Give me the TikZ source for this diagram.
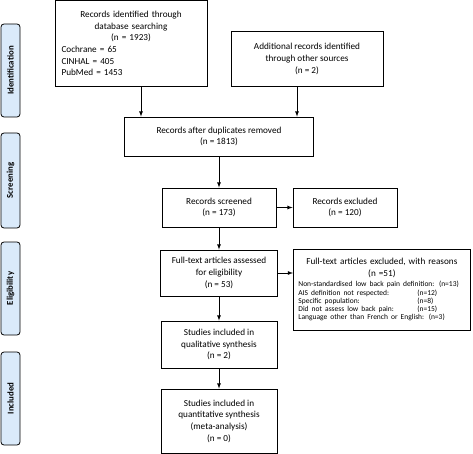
\documentclass[tikz,border=0pt]{standalone}
\usepackage{fontspec}
\setmainfont{Carlito}
\usetikzlibrary{arrows,positioning}
\definecolor{stagefill}{RGB}{218,234,250}

\begin{document}
\begin{tikzpicture}[x=1pt,y=-1pt,>=latex,
  box/.style={draw, line width=0.8pt, align=center, inner sep=3pt,
    font=\fontsize{9.2}{11.7}\selectfont},
  stage/.style={draw, line width=0.8pt, rounded corners=3pt, fill=stagefill,
    rotate=90, minimum height=19pt, inner sep=0pt,
    font=\fontsize{8.8}{10}\selectfont\bfseries}]
  \useasboundingbox (0,0) rectangle (473,454);

  % stages
  \node[stage, minimum width=93pt] (ident) at (10.5,70.5) {Identification};
  \node[stage, minimum width=95pt] (screen) at (10.5,180.5) {Screening};
  \node[stage, minimum width=93pt] (elig) at (10.5,288.5) {Eligibility};
  \node[stage, minimum width=93pt] (incl) at (10.5,398.5) {Included};

  % boxes
  \node[box, minimum width=152pt, minimum height=86pt, text width=139pt,
    inner xsep=6pt, align=left] (db) at (131,43.5)
    {{\centering Records identified through\\ database searching\\ (n = 1923)\par}
     Cochrane = 65\\ CINHAL = 405\\ PubMed = 1453};
  \node[box, minimum width=152pt, minimum height=55pt] (add) at (307,59)
    {Additional records identified\\ through other sources\\ (n = 2)};
  \node[box, minimum width=189pt, minimum height=39pt] (dup) at (219,136.5)
    {Records after duplicates removed\\ (n = 1813)};
  \node[box, minimum width=114pt, minimum height=39pt] (scr) at (219,207.5)
    {Records screened\\ (n = 173)};
  \node[box, minimum width=104pt, minimum height=39pt] (excl) at (345,207.5)
    {Records excluded\\ (n = 120)};
  \node[box, minimum width=117pt, minimum height=46pt] (full) at (219,273)
    {Full-text articles assessed\\ for eligibility\\ (n = 53)};
  \node[box, anchor=north west, minimum width=177pt, text width=167pt,
    inner xsep=5pt, inner ysep=9pt, align=left] (rsn) at (293,249)
    {{\centering Full-text articles excluded, with reasons\\ (n =51)\par}
     \vspace{2pt}
     {\fontsize{7.5}{8.3}\selectfont
     Non-standardised low back pain definition: (n=13)\\
     \makebox[119pt][l]{AIS definition not respected:}(n=12)\\
     \makebox[119pt][l]{Specific population:}(n=8)\\
     \makebox[119pt][l]{Did not assess low back pain:}(n=15)\\
     Language other than French or English: (n=3)\par}
     \vspace*{5pt}};
  \node[box, minimum width=116pt, minimum height=47pt] (qual) at (219,344.5)
    {Studies included in\\ qualitative synthesis\\ (n = 2)};
  \node[box, minimum width=116pt, minimum height=64pt] (quant) at (219,421)
    {Studies included in\\ quantitative synthesis\\ (meta-analysis)\\ (n = 0)};

  \path[->, line width=0.8pt]
  ([xshift=10pt]db.south) edge ([xshift=10pt]db.south |- dup.north)
  ([xshift=-10pt]add.south) edge ([xshift=-10pt]add.south |- dup.north)
  (dup) edge (scr)
  (scr) edge (excl)
        edge (full)
  (full.east) edge (full.east -| rsn.west)
  (full) edge (qual)
  (qual) edge (quant)
  ;
\end{tikzpicture}
\end{document}
